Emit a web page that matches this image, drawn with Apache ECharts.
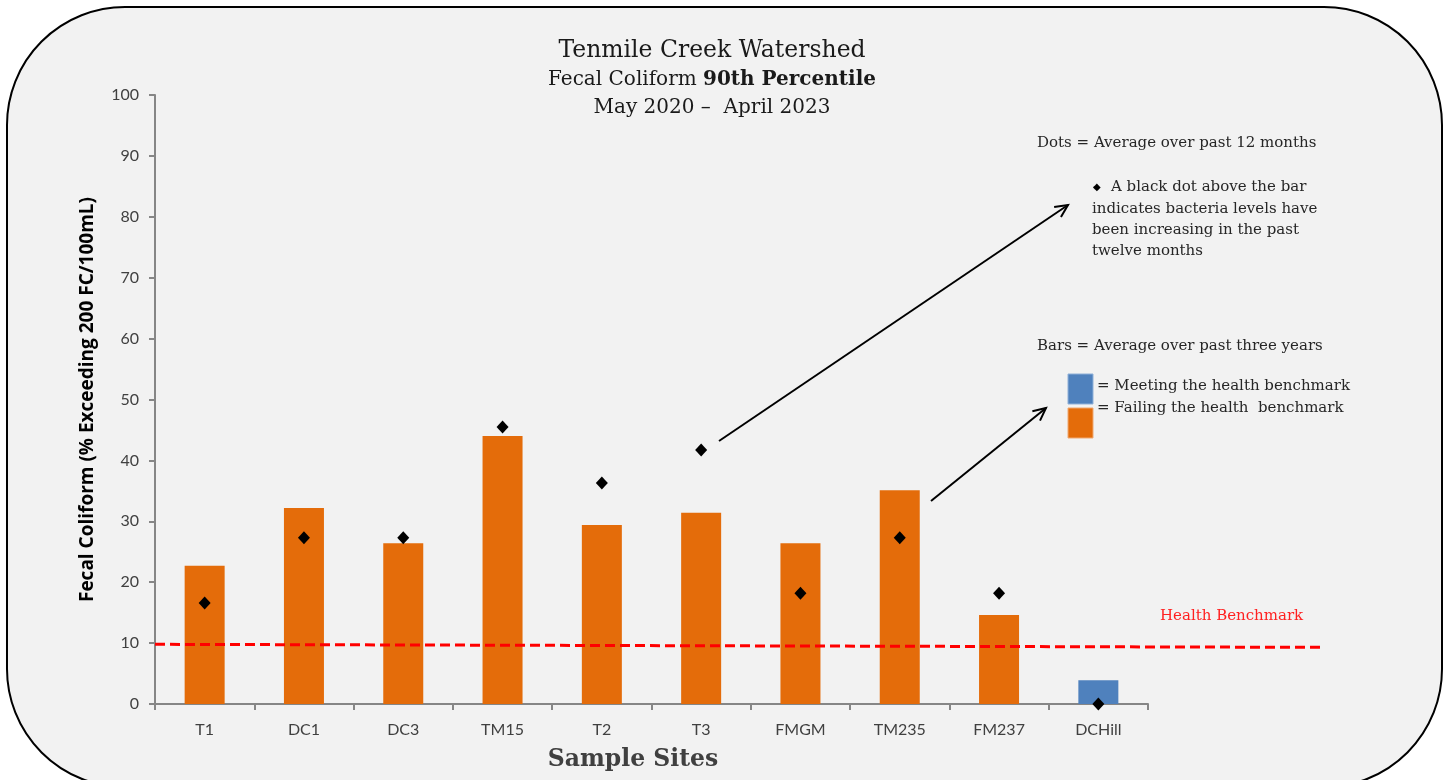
<!DOCTYPE html>
<html>
<head>
<meta charset="utf-8">
<title>Tenmile Creek Watershed</title>
<script src="https://cdn.jsdelivr.net/npm/echarts@6/dist/echarts.min.js"></script>
<style>
  html, body { margin: 0; padding: 0; background: #ffffff; }
  #chart { width: 1447px; height: 780px; }
</style>
</head>
<body>
<div id="chart"></div>
<script>
/* ── Data ─────────────────────────────────────────────────────────── */
const sites = ['T1', 'DC1', 'DC3', 'TM15', 'T2', 'T3', 'FMGM', 'TM235', 'FM237', 'DCHill'];
const threeYearAvg = [22.7, 32.2, 26.4, 44.0, 29.4, 31.4, 26.4, 35.1, 14.6, 3.9];
const twelveMonthAvg = [16.6, 27.3, 27.3, 45.5, 36.3, 41.7, 18.2, 27.3, 18.2, 0];
const benchmarkLine = [[0, 9.8], [1, 9.3]];
const benchmark = 10;
const yTicks = { min: 0, max: 100, interval: 10 };

/* ── Style ────────────────────────────────────────────────────────── */
const ORANGE = '#E46C0A';
const BLUE = '#4F81BD';
const SERIF = '"DejaVu Serif", "Liberation Serif", serif';
const SANS = 'Lato, "Open Sans", sans-serif';
const AXIS = '#868686';
const TEXT = '#404040';

/* ── Helpers ──────────────────────────────────────────────────────── */
function arrow(x1, y1, x2, y2) {
    const dx = x2 - x1, dy = y2 - y1;
    const len = Math.hypot(dx, dy);
    const ux = dx / len, uy = dy / len;
    const head = 14, a = Math.PI / 7;
    const p1 = [x2 - head * (ux * Math.cos(a) - uy * Math.sin(a)), y2 - head * (uy * Math.cos(a) + ux * Math.sin(a))];
    const p2 = [x2 - head * (ux * Math.cos(a) + uy * Math.sin(a)), y2 - head * (uy * Math.cos(a) - ux * Math.sin(a))];
    return [
        { type: 'line', shape: { x1, y1, x2, y2 }, style: { stroke: '#000', lineWidth: 2 }, z: 20 },
        { type: 'polyline', shape: { points: [p1, [x2, y2], p2] }, style: { stroke: '#000', lineWidth: 2, fill: null }, z: 20 }
    ];
}

function note(x, y, text, extra) {
    return {
        type: 'text', x, y, z: 20,
        style: Object.assign({ text, font: '15px ' + SERIF, fill: '#262626', textVerticalAlign: 'middle' }, extra || {})
    };
}

/* ── Chart ────────────────────────────────────────────────────────── */
const chart = echarts.init(document.getElementById('chart'));

const option = {
    backgroundColor: '#ffffff',
    animation: false,
    title: {
        left: 707, top: 31, textAlign: 'center',
        text: '{a|Tenmile Creek Watershed}\n{b|Fecal Coliform }{c|90th Percentile}\n{b|May 2020 –  April 2023}',
        textStyle: {
            fontWeight: 'normal',
            rich: {
                a: { fontFamily: SERIF, fontSize: 23.5, fontWeight: 'normal', color: '#1a1a1a', lineHeight: 30 },
                b: { fontFamily: SERIF, fontSize: 20, fontWeight: 'normal', color: '#1a1a1a', lineHeight: 28 },
                c: { fontFamily: SERIF, fontSize: 20, fontWeight: 'bold', color: '#1a1a1a', lineHeight: 28 }
            }
        }
    },
    grid: [
        { left: 155, right: 299, top: 95, bottom: 76 },
        { left: 155, right: 122, top: 95, bottom: 76 }
    ],
    xAxis: [{
        type: 'category', gridIndex: 0, data: sites,
        axisLine: { lineStyle: { color: AXIS, width: 2 } },
        axisTick: { show: true, length: 6, lineStyle: { color: AXIS, width: 2 } },
        axisLabel: { color: TEXT, fontFamily: SANS, fontSize: 16, margin: 18 }
    }, {
        type: 'value', gridIndex: 1, min: 0, max: 1, show: false
    }],
    yAxis: [{
        type: 'value', gridIndex: 0,
        min: yTicks.min, max: yTicks.max, interval: yTicks.interval,
        name: 'Fecal Coliform (% Exceeding 200 FC/100mL)',
        nameLocation: 'middle', nameGap: 58,
        nameTextStyle: { color: '#000', fontFamily: '"Open Sans", Lato, sans-serif', fontSize: 19, fontWeight: 'bold' },
        axisLine: { show: true, lineStyle: { color: AXIS, width: 2 } },
        axisTick: { show: true, length: 6, lineStyle: { color: AXIS, width: 2 } },
        axisLabel: { color: TEXT, fontFamily: SANS, fontSize: 16, margin: 16 },
        splitLine: { show: false }
    }, {
        type: 'value', gridIndex: 1, min: yTicks.min, max: yTicks.max, show: false
    }],
    series: [{
        type: 'bar', name: 'Three-year average',
        xAxisIndex: 0, yAxisIndex: 0,
        barWidth: 40,
        data: threeYearAvg.map(v => ({
            value: v,
            itemStyle: { color: v > benchmark ? ORANGE : BLUE }
        })),
        z: 2
    }, {
        type: 'line', name: 'Health Benchmark',
        xAxisIndex: 1, yAxisIndex: 1,
        data: benchmarkLine,
        symbol: 'none',
        lineStyle: { color: '#ff0000', width: 3, type: [10, 5] },
        z: 3
    }, {
        type: 'scatter', name: 'Twelve-month average',
        xAxisIndex: 0, yAxisIndex: 0,
        data: twelveMonthAvg,
        symbol: 'diamond', symbolSize: [12, 13],
        itemStyle: { color: '#000', opacity: 1 },
        clip: false,
        z: 5
    }],
    graphic: [
        {
            type: 'rect', z: -10, silent: true,
            shape: { x: 7, y: 7, width: 1435, height: 780, r: 118 },
            style: { fill: '#f2f2f2', stroke: '#000', lineWidth: 2 }
        },
        {
            type: 'text', x: 633, y: 760, z: 20,
            style: { text: 'Sample Sites', font: 'bold 23.5px ' + SERIF, fill: TEXT, textAlign: 'center', textVerticalAlign: 'middle' }
        },
        note(1037, 143, 'Dots = Average over past 12 months'),
        note(1093, 187, '◆', { font: '10px ' + SERIF, fill: '#000' }),
        note(1111, 187, 'A black dot above the bar'),
        note(1092, 209, 'indicates bacteria levels have'),
        note(1092, 230, 'been increasing in the past'),
        note(1092, 251, 'twelve months'),
        note(1037, 346, 'Bars = Average over past three years'),
        {
            type: 'rect', z: 20, shape: { x: 1068, y: 374, width: 25, height: 30 },
            style: { fill: BLUE, stroke: '#8fb0d8', lineWidth: 1 }
        },
        {
            type: 'rect', z: 20, shape: { x: 1068, y: 408, width: 25, height: 30 },
            style: { fill: ORANGE, stroke: '#f0a870', lineWidth: 1 }
        },
        note(1097, 386, '= Meeting the health benchmark'),
        note(1097, 408, '= Failing the health  benchmark'),
        note(1160, 616, 'Health Benchmark', { fill: '#ff2020' }),
        ...arrow(719, 441, 1068, 205),
        ...arrow(931, 501, 1046, 408)
    ]
};

chart.setOption(option);
</script>
</body>
</html>
